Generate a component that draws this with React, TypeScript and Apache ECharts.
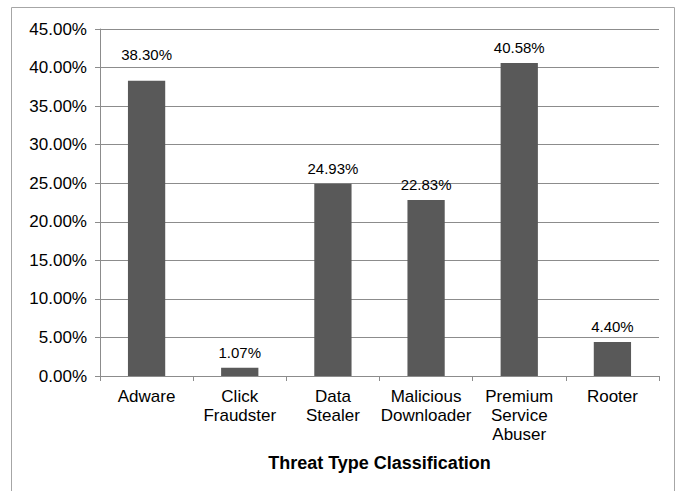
import React, { useEffect, useRef } from "react";
import * as echarts from "echarts";

const categories = ["Adware", "Click Fraudster", "Data Stealer", "Malicious Downloader", "Premium Service Abuser", "Rooter"];
const shares = [38.3, 1.07, 24.93, 22.83, 40.58, 4.4];
const yMin = 0;
const yMax = 45;
const yStep = 5;
const axisTitle = "Threat Type Classification";

export default function App() {
  const ref = useRef<HTMLDivElement>(null);
  useEffect(() => {
    document.body.style.margin = "0";
    const chart = echarts.init(ref.current!, undefined, { renderer: "svg" });
    const font = "'Liberation Sans', Arial, sans-serif";
    chart.setOption({
      animation: false,
      backgroundColor: "#ffffff",
      textStyle: { fontFamily: font },
      graphic: [
        {
          type: "rect",
          shape: { x: 11.5, y: 7.5, width: 663, height: 500 },
          style: { fill: "none", stroke: "#a6a6a6", lineWidth: 1 },
          silent: true,
        },
      ],
      grid: { left: 100, right: 21, top: 29, bottom: 115 },
      xAxis: {
        type: "category",
        data: categories,
        axisLine: { lineStyle: { color: "#8c8c8c" } },
        axisTick: { show: true, length: 5, lineStyle: { color: "#8c8c8c" } },
        axisLabel: {
          color: "#000",
          fontSize: 17,
          lineHeight: 19,
          margin: 11,
          interval: 0,
          fontFamily: font,
          formatter: (v: string) => v.split(" ").join("\n"),
        },
        name: axisTitle,
        nameLocation: "middle",
        nameGap: 78,
        nameTextStyle: { color: "#000", fontSize: 18, fontWeight: "bold", fontFamily: font },
      },
      yAxis: {
        type: "value",
        min: yMin,
        max: yMax,
        interval: yStep,
        axisLine: { show: true, lineStyle: { color: "#8c8c8c" } },
        axisTick: { show: true, length: 5, lineStyle: { color: "#8c8c8c" } },
        splitLine: { lineStyle: { color: "#8c8c8c", width: 1 } },
        axisLabel: {
          color: "#000",
          fontSize: 17,
          margin: 13,
          fontFamily: font,
          formatter: (v: number) => v.toFixed(2) + "%",
        },
      },
      series: [
        {
          type: "bar",
          data: shares.map((v, i) => (i === 0 ? { value: v, label: { distance: 19 } } : v)),
          barWidth: "40%",
          itemStyle: { color: "#595959" },
          label: {
            show: true,
            position: "top",
            distance: 8,
            color: "#000",
            fontSize: 15,
            fontFamily: font,
            formatter: (p: any) => Number(p.value).toFixed(2) + "%",
          },
        },
      ],
    });
    return () => chart.dispose();
  }, []);
  return <div ref={ref} style={{ width: 680, height: 491 }} />;
}
